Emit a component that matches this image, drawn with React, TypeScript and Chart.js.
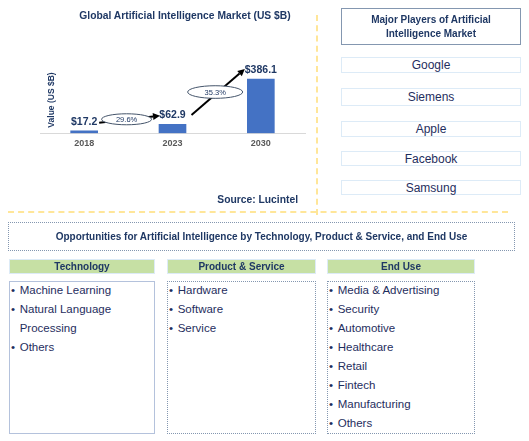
import React, { useEffect, useRef } from "react";
import { Chart, registerables } from "chart.js";

Chart.register(...registerables);

const chartTitle = "Global Artificial Intelligence Market (US $B)";
const yAxisLabel = "Value (US $B)";
const sourceText = "Source: Lucintel";
const years = ["2018", "2023", "2030"];
const marketValues = [17.2, 62.9, 386.1];
const valueLabels = ["$17.2", "$62.9", "$386.1"];
const cagrLabels = ["29.6%", "35.3%"];
const playersTitle = ["Major Players of Artificial", "Intelligence Market"];
const players = ["Google", "Siemens", "Apple", "Facebook", "Samsung"];
const opportunitiesTitle =
  "Opportunities for Artificial Intelligence by Technology, Product & Service, and End Use";
const segmentTitles = ["Technology", "Product & Service", "End Use"];
const technology = ["Machine Learning", "Natural Language Processing", "Others"];
const productService = ["Hardware", "Software", "Service"];
const endUse = [
  "Media & Advertising",
  "Security",
  "Automotive",
  "Healthcare",
  "Retail",
  "Fintech",
  "Manufacturing",
  "Others",
];

const FONT = "'Liberation Sans', Arial, Helvetica, sans-serif";
const NAVY = "#1F3864";
const TEXT_NAVY = "#1F2E5E";

const annotationPlugin = {
  id: "annotations",
  afterDatasetsDraw(chart: any) {
    const ctx = chart.ctx as CanvasRenderingContext2D;
    const bars = chart.getDatasetMeta(0).data as any[];
    ctx.save();
    // value labels
    ctx.font = `bold 10.5px ${FONT}`;
    ctx.fillStyle = NAVY;
    ctx.textAlign = "center";
    ctx.textBaseline = "middle";
    bars.forEach((b, i) => ctx.fillText(valueLabels[i], b.x, b.y - 9));

    // arrows
    const arrows = [
      [bars[0].x + 15, bars[0].y - 8, bars[1].x - 12.5, bars[1].y - 8.6],
      [bars[1].x + 19, bars[1].y - 9.3, bars[2].x - 16, bars[2].y - 10],
    ];
    arrows.forEach(([x1, y1, x2, y2]) => {
      const ang = Math.atan2(y2 - y1, x2 - x1);
      const hl = 7;
      const hw = 3.5;
      const bx = x2 - hl * Math.cos(ang);
      const by = y2 - hl * Math.sin(ang);
      ctx.strokeStyle = "#000";
      ctx.lineWidth = 2;
      ctx.beginPath();
      ctx.moveTo(x1, y1);
      ctx.lineTo(bx, by);
      ctx.stroke();
      ctx.fillStyle = "#000";
      ctx.beginPath();
      ctx.moveTo(x2, y2);
      ctx.lineTo(bx - hw * Math.sin(ang), by + hw * Math.cos(ang));
      ctx.lineTo(bx + hw * Math.sin(ang), by - hw * Math.cos(ang));
      ctx.closePath();
      ctx.fill();
    });

    // CAGR ellipses
    const sizes = [
      [25, 5.5],
      [27.5, 6.3],
    ];
    arrows.forEach(([x1, y1, x2, y2], i) => {
      const cx = (x1 + x2) / 2 - 3;
      const cy = (y1 + y2) / 2;
      ctx.beginPath();
      ctx.ellipse(cx, cy, sizes[i][0], sizes[i][1], 0, 0, Math.PI * 2);
      ctx.fillStyle = "#fff";
      ctx.fill();
      ctx.strokeStyle = "#44546A";
      ctx.lineWidth = 1;
      ctx.stroke();
      ctx.fillStyle = NAVY;
      ctx.font = `7.5px ${FONT}`;
      ctx.textAlign = "center";
      ctx.textBaseline = "middle";
      ctx.fillText(cagrLabels[i], cx, cy + 0.5);
    });

    // y-axis label
    ctx.save();
    ctx.translate(52, 100);
    ctx.rotate(-Math.PI / 2);
    ctx.font = `bold 8.5px ${FONT}`;
    ctx.fillStyle = NAVY;
    ctx.textAlign = "center";
    ctx.textBaseline = "middle";
    ctx.fillText(yAxisLabel, 0, 0);
    ctx.restore();

    ctx.restore();
  },
};

function MarketChart() {
  const ref = useRef<HTMLCanvasElement | null>(null);
  useEffect(() => {
    if (!ref.current) return;
    Chart.defaults.font.family = FONT;
    const chart = new Chart(ref.current, {
      type: "bar",
      data: {
        labels: years,
        datasets: [
          {
            data: marketValues,
            backgroundColor: "#4472C4",
            barThickness: 27,
          },
        ],
      },
      options: {
        animation: false,
        responsive: false,
        layout: { padding: { left: 40, right: 11, top: 63, bottom: 56 } },
        plugins: {
          legend: { display: false },
          tooltip: { enabled: false },
          title: { display: false },
        },
        scales: {
          x: {
            grid: { display: false, drawTicks: false },
            border: { display: true, color: "#D9D9D9", width: 1 },
            ticks: {
              padding: 5,
              color: "#595959",
              font: { size: 9, weight: "bold", family: FONT },
            },
          },
          y: { display: false, min: 0, max: 500 },
        },
      },
      plugins: [annotationPlugin],
    } as any);
    return () => chart.destroy();
  }, []);
  return (
    <canvas
      ref={ref}
      width={316}
      height={210}
      style={{ position: "absolute", left: 0, top: 0, width: 316, height: 210 }}
    />
  );
}

const abs = (l: number, t: number, w: number, h: number): React.CSSProperties => ({
  position: "absolute",
  left: l,
  top: t,
  width: w,
  height: h,
  boxSizing: "border-box",
});

function BulletList({ items, left, top, width }: { items: string[]; left: number; top: number; width: number }) {
  return (
    <div style={{ position: "absolute", left, top, width, fontSize: 11.5, lineHeight: "19px", color: TEXT_NAVY }}>
      {items.map((it) => (
        <div key={it} style={{ display: "flex" }}>
          <span style={{ width: 8.7, flex: "none", paddingLeft: 1 }}>•</span>
          <span>{it}</span>
        </div>
      ))}
    </div>
  );
}

export default function App() {
  const companyBoxes = [
    [57, 16],
    [88, 18],
    [121, 16],
    [151, 15],
    [180, 15],
  ];
  const cols = [
    [9, 146],
    [167, 149],
    [327, 148],
  ];
  const lists = [technology, productService, endUse];
  return (
    <div
      style={{
        position: "absolute",
        left: 0,
        top: 0,
        width: 529,
        height: 441,
        background: "#fff",
        fontFamily: FONT,
        overflow: "hidden",
      }}
    >
      <MarketChart />
      <div style={{ ...abs(70, 9, 230, 14), textAlign: "center", fontWeight: "bold", fontSize: 10.3, color: NAVY, lineHeight: "14px" }}>
        {chartTitle}
      </div>
      <div style={{ ...abs(190, 193, 108, 14), textAlign: "right", fontWeight: "bold", fontSize: 10.3, color: NAVY, lineHeight: "14px" }}>
        {sourceText}
      </div>

      {/* dashed separators */}
      <div style={{ ...abs(315.5, 15, 2, 200), borderLeft: "2px dashed #FFE699" }} />
      <div style={{ ...abs(8, 211, 500, 2), borderTop: "2px dashed #FFE699" }} />

      {/* players */}
      <div
        style={{
          ...abs(341, 8, 180, 37),
          border: "1.5px solid #8497B0",
          display: "flex",
          flexDirection: "column",
          alignItems: "center",
          justifyContent: "center",
          fontWeight: "bold",
          fontSize: 10,
          lineHeight: "13.3px",
          color: NAVY,
        }}
      >
        {playersTitle.map((t) => (
          <div key={t}>{t}</div>
        ))}
      </div>
      {players.map((p, i) => (
        <div
          key={p}
          style={{
            ...abs(341, companyBoxes[i][0], 180, companyBoxes[i][1]),
            border: "1.5px solid #DDEBF7",
            display: "flex",
            alignItems: "center",
            justifyContent: "center",
            fontSize: 12,
            color: TEXT_NAVY,
          }}
        >
          {p}
        </div>
      ))}

      {/* opportunities */}
      <div
        style={{
          ...abs(8, 222, 507, 29),
          border: "1px dotted #8497B0",
          display: "flex",
          alignItems: "center",
          justifyContent: "center",
          fontWeight: "bold",
          fontSize: 10,
          color: NAVY,
        }}
      >
        {opportunitiesTitle}
      </div>

      {segmentTitles.map((s, i) => (
        <div
          key={s}
          style={{
            ...abs(cols[i][0], 259, cols[i][1], 15),
            background: "#C6E0A4",
            border: "1px solid #DDEBF7",
            display: "flex",
            alignItems: "center",
            justifyContent: "center",
            fontWeight: "bold",
            fontSize: 10,
            color: NAVY,
          }}
        >
          {s}
        </div>
      ))}
      {cols.map(([l, w], i) => (
        <div
          key={"box" + i}
          style={{
            ...abs(l, 281, w, 153),
            border: i === 0 ? "1.5px solid #B4C2DC" : "1px dotted #8497B0",
          }}
        />
      ))}
      {cols.map(([l, w], i) => (
        <BulletList key={"list" + i} items={lists[i]} left={l + 1} top={281} width={w - 4} />
      ))}
    </div>
  );
}
